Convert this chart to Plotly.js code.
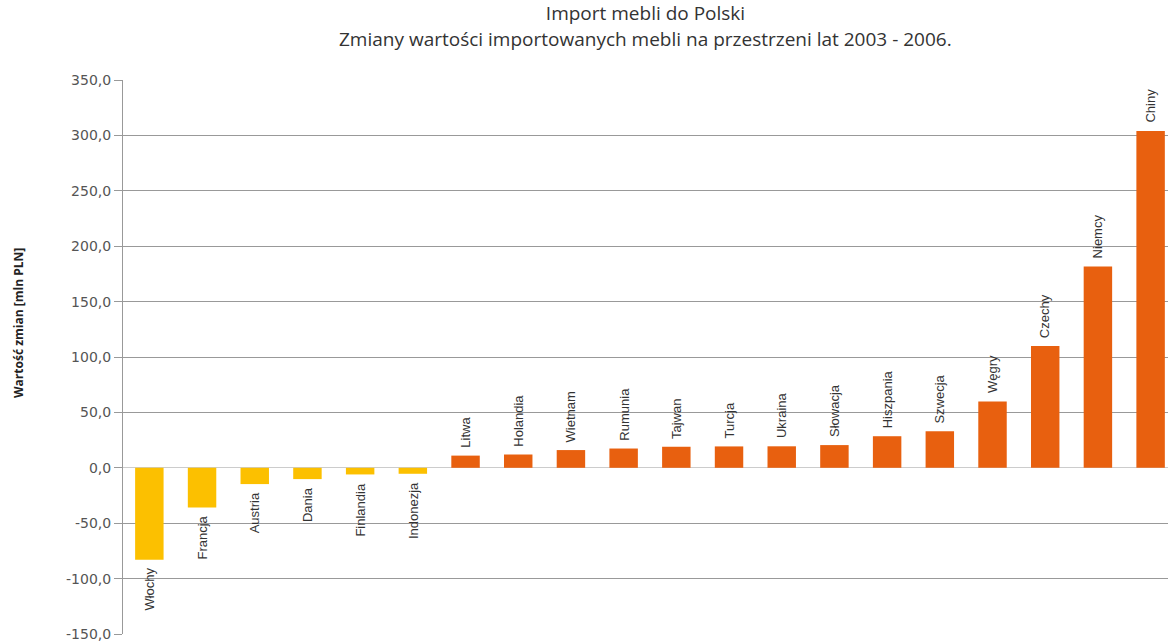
<!DOCTYPE html>
<html>
<head>
<meta charset="utf-8">
<script src="https://cdn.plot.ly/plotly-3.0.1.min.js"></script>
<style>html,body{margin:0;padding:0;background:#fff;}#chart{width:1168px;height:642px;}</style>
</head>
<body>
<div id="chart"></div>
<script>
const countries = ["Włochy","Francja","Austria","Dania","Finlandia","Indonezja","Litwa","Holandia","Wietnam","Rumunia","Tajwan","Turcja","Ukraina","Słowacja","Hiszpania","Szwecja","Węgry","Czechy","Niemcy","Chiny"];
const values = [-83.0,-35.8,-14.7,-10.2,-6.0,-5.4,11.0,12.0,16.0,17.4,19.0,19.3,19.4,20.5,28.5,33.0,59.8,110.0,181.7,304.0];
const tickVals = [350,300,250,200,150,100,50,0,-50,-100,-150];
const tickText = ["350,0","300,0","250,0","200,0","150,0","100,0","50,0","0,0","-50,0","-100,0","-150,0"];
const titleLine1 = "Import mebli do Polski";
const titleLine2 = "Zmiany wartości importowanych mebli na przestrzeni lat 2003 - 2006.";
const yTitle = "Wartość zmian [mln PLN]";

const colors = values.map(v => v < 0 ? "#FCC000" : "#E8600F");

const labelAnn = countries.map((c, i) => ({
  x: c, y: values[i], xref: "x", yref: "y",
  text: c, showarrow: false, textangle: -90,
  yanchor: values[i] >= 0 ? "bottom" : "top",
  xanchor: "center",
  yshift: values[i] >= 0 ? 6 : -6,
  font: {family: "Liberation Sans, Arial, sans-serif", size: 13, color: "#333"}
}));

const data = [{
  type: "bar", x: countries, y: values,
  marker: {color: colors, line: {width: 0}},
  width: 0.54, hoverinfo: "x+y"
}];

const titleFont = {family: "Open Sans, sans-serif", size: 19, color: "#333"};

const layout = {
  width: 1168, height: 642,
  margin: {l: 123, r: 0, t: 80, b: 8},
  paper_bgcolor: "#fff", plot_bgcolor: "#fff",
  showlegend: false,
  title: {
    text: titleLine1,
    font: titleFont,
    x: 0.5, xanchor: "center", xref: "paper",
    y: 1 - 13/642, yanchor: "middle", yref: "container"
  },
  xaxis: {
    type: "category", range: [-0.5, 19.33],
    showticklabels: false, showgrid: false, zeroline: false, showline: false, ticks: ""
  },
  yaxis: {
    range: [-150, 350], tickvals: tickVals, ticktext: tickText,
    showgrid: true, gridcolor: "#999", gridwidth: 1,
    zeroline: true, zerolinecolor: "#ccc", zerolinewidth: 1,
    showline: true, linecolor: "#999", linewidth: 1,
    ticks: "outside", ticklen: 8, tickcolor: "#999",
    tickfont: {family: "DejaVu Sans, sans-serif", size: 14, color: "#555"}
  },
  annotations: labelAnn.concat([{
    text: titleLine2, xref: "paper", yref: "paper",
    x: 0.5, y: (634 - 39) / 554, showarrow: false,
    xanchor: "center", yanchor: "middle", font: titleFont
  }, {
    text: "<b>" + yTitle + "</b>", xref: "paper", yref: "paper",
    x: (18 - 123) / 1045, y: (634 - 323) / 554, showarrow: false, textangle: -90,
    xanchor: "center", yanchor: "middle",
    font: {family: "Open Sans, sans-serif", size: 12, color: "#222"}
  }])
};

Plotly.newPlot("chart", data, layout, {displayModeBar: false, staticPlot: true});
</script>
</body>
</html>
